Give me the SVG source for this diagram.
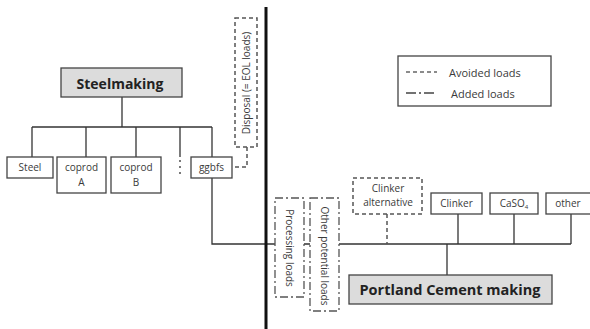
<svg xmlns="http://www.w3.org/2000/svg" width="590" height="329" viewBox="0 0 590 329">
<style>
.t{font-family:"Open Sans","Liberation Sans",sans-serif;fill:#3a3a3a;font-size:10px;text-anchor:middle}
.lg{font-family:"Open Sans","Liberation Sans",sans-serif;fill:#3a3a3a;font-size:11px;text-anchor:start}
.b{font-family:"Open Sans","Liberation Sans",sans-serif;fill:#222;font-weight:bold;text-anchor:middle}
.box{fill:#fff;stroke:#444;stroke-width:1.3}
.main{fill:#dcdcdc;stroke:#444;stroke-width:1.3}
.ln{fill:none;stroke:#333;stroke-width:1.3}
.dash{fill:#fff;stroke:#555;stroke-width:1.5;stroke-dasharray:4,3}
.dd{fill:#fff;stroke:#555;stroke-width:1.3;stroke-dasharray:8,3,2,3}
</style>
<rect width="590" height="329" fill="#fff"/>
<g id="connectors">
<line class="ln" x1="122" y1="97" x2="122" y2="127"/>
<line class="ln" x1="32" y1="127" x2="212" y2="127"/>
<line class="ln" x1="32" y1="127" x2="32" y2="157"/>
<line class="ln" x1="86" y1="127" x2="86" y2="157"/>
<line class="ln" x1="136" y1="127" x2="136" y2="157"/>
<line class="ln" x1="180" y1="127" x2="180" y2="157"/>
<line class="ln" x1="180" y1="160" x2="180" y2="174" stroke-dasharray="2,4"/>
<line class="ln" x1="212" y1="127" x2="212" y2="157"/>
<polyline class="ln" points="212,178 212,244 571,244"/>
<line class="ln" x1="458" y1="214" x2="458" y2="244"/>
<line class="ln" x1="514" y1="214" x2="514" y2="244"/>
<line class="ln" x1="571" y1="214" x2="571" y2="244"/>
<line class="ln" x1="447" y1="244" x2="447" y2="275"/>
<line x1="387" y1="214" x2="387" y2="244" stroke="#555" stroke-width="1.5" stroke-dasharray="4,3"/>
<polyline points="247,147 247,167 232,167" fill="none" stroke="#555" stroke-width="1.5" stroke-dasharray="4,3"/>
<line x1="173" y1="75" x2="173" y2="98" stroke="#444" stroke-width="1.3" stroke-dasharray="4,2"/>
</g>
<g id="divider"><line x1="266" y1="7" x2="266" y2="329" stroke="#111" stroke-width="3"/></g>
<g id="steelmaking"><rect class="main" x="61" y="68" width="121" height="29"/><text class="b" x="120" y="89" font-size="14">Steelmaking</text></g>
<g id="steel"><rect class="box" x="7" y="157" width="46" height="21"/><text class="t" x="30" y="171">Steel</text></g>
<g id="coprodA"><rect class="box" x="57" y="157" width="49" height="36"/><text class="t" x="81.5" y="171">coprod</text><text class="t" x="81.5" y="186">A</text></g>
<g id="coprodB"><rect class="box" x="111" y="157" width="50" height="36"/><text class="t" x="136" y="171">coprod</text><text class="t" x="136" y="186">B</text></g>
<g id="ggbfs"><rect class="box" x="191" y="157" width="41" height="21"/><text class="t" x="211.5" y="171">ggbfs</text></g>
<g id="disposal"><rect class="dash" x="235" y="18" width="22" height="129"/><text class="t" transform="translate(249.5,83) rotate(-90)" x="0" y="0">Disposal (= EOL loads)</text></g>
<g id="processing"><rect class="dd" x="275" y="198" width="29" height="99"/><text class="t" transform="translate(286,248) rotate(90)" x="0" y="0">Processing loads</text></g>
<g id="other-loads"><rect class="dd" x="310" y="198" width="29" height="113"/><text class="t" transform="translate(321,256) rotate(90)" x="0" y="0">Other potential loads</text></g>
<g id="clinker-alt"><rect class="dash" x="353" y="178" width="69" height="36"/><text class="t" x="388" y="192">Clinker</text><text class="t" x="388" y="206">alternative</text></g>
<g id="clinker"><rect class="box" x="431" y="193" width="51" height="21"/><text class="t" x="456.5" y="207">Clinker</text></g>
<g id="caso4"><rect class="box" x="490" y="193" width="48" height="21"/><text class="t" x="514" y="207">CaSO<tspan font-size="6" dy="2">4</tspan></text></g>
<g id="other"><rect class="box" x="546" y="193" width="48" height="21"/><text class="t" x="568" y="207">other</text></g>
<g id="portland"><rect class="main" x="349" y="275" width="203" height="29"/><text class="b" x="450" y="295" font-size="14.5">Portland Cement making</text></g>
<g id="legend"><rect class="box" x="398" y="56" width="153" height="50" stroke-width="1"/>
<line x1="406" y1="72" x2="437" y2="72" stroke="#666" stroke-width="1.3" stroke-dasharray="4,3"/>
<line x1="406" y1="93" x2="437" y2="93" stroke="#444" stroke-width="1.3" stroke-dasharray="10,3,2,3"/>
<text class="lg" x="449" y="76.5">Avoided loads</text>
<text class="lg" x="451" y="97.5">Added loads</text></g>
</svg>
